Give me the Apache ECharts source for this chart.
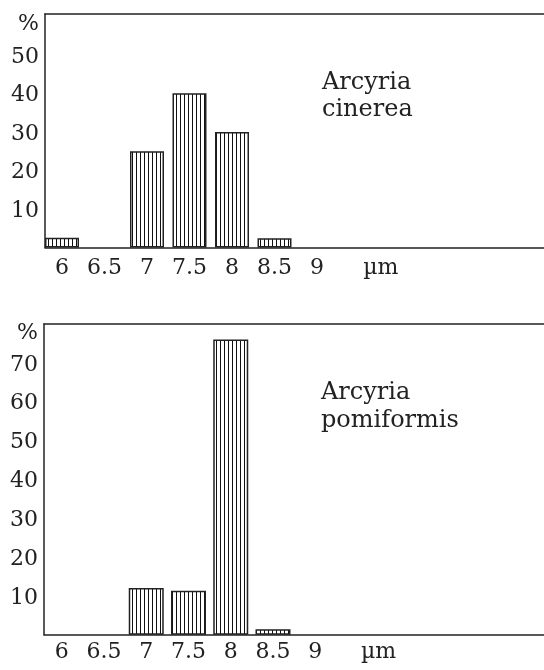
<!DOCTYPE html>
<html><head><meta charset="utf-8">
<script src="https://cdn.jsdelivr.net/npm/echarts@6/dist/echarts.min.js"></script>
<style>html,body{margin:0;padding:0;background:#fff}#c{width:544px;height:670px}</style>
</head><body><div id="c"></div>
<script>
// ---- data ----
const sizesTop = [6, 7, 7.5, 8, 8.5];
const valuesTop = [2.5, 25, 40, 30, 2.4];
const sizesBottom = [7, 7.5, 8, 8.5];
const valuesBottom = [12, 11.3, 76, 1.4];
const xTickLabels = [6, 6.5, 7, 7.5, 8, 8.5, 9];
const xUnit = 'µm';
const yTicksTop = [10, 20, 30, 40, 50];
const yTicksBottom = [10, 20, 30, 40, 50, 60, 70];
const yUnit = '%';
const speciesTop = ['Arcyria', 'cinerea'];
const speciesBottom = ['Arcyria', 'pomiformis'];

// ---- style ----
const INK = '#222';
const FONT = 'DejaVu Serif';
const FS = 22;
const unitXPos = 9.75;
const unitYTop = 58.5, unitYBottom = 78;

const pat = document.createElement('canvas');
pat.width = 4; pat.height = 4;
const pc = pat.getContext('2d');
pc.fillStyle = '#fff'; pc.fillRect(0, 0, 4, 4);
pc.fillStyle = '#111'; pc.fillRect(0, 0, 1, 4);
const fill = { image: pat, repeat: 'repeat' };

function xAx(gi, min, max, margin) {
  return {
    type: 'value', gridIndex: gi, min: min, max: max,
    splitLine: { show: false },
    axisLine: { show: true, onZero: false, lineStyle: { color: INK, width: 1.5 } },
    axisTick: { show: false },
    axisLabel: {
      customValues: xTickLabels.concat([unitXPos]),
      formatter: v => (Math.abs(v - unitXPos) < 1e-6 ? xUnit : String(v)),
      color: INK, fontFamily: FONT, fontSize: FS, margin: margin, showMinLabel: true, showMaxLabel: true
    }
  };
}
function topAx(gi, min, max) {
  return {
    type: 'value', gridIndex: gi, min: min, max: max, position: 'top',
    splitLine: { show: false },
    axisLine: { show: true, onZero: false, lineStyle: { color: INK, width: 1.5 } },
    axisTick: { show: false }, axisLabel: { show: false }
  };
}
function yAx(gi, max, ticks, unitV) {
  return {
    type: 'value', gridIndex: gi, min: 0, max: max,
    splitLine: { show: false },
    axisLine: { show: true, lineStyle: { color: INK, width: 1.5 } },
    axisTick: { show: false },
    axisLabel: {
      customValues: ticks.concat([unitV]),
      formatter: v => (Math.abs(v - unitV) < 1e-6 ? yUnit : String(v)),
      color: INK, fontFamily: FONT, fontSize: FS, margin: 6,
      verticalAlign: 'top', lineHeight: 22, padding: [-9, 0, 0, 0]
    }
  };
}

const chart = echarts.init(document.getElementById('c'), null, { renderer: 'canvas' });
chart.setOption({
  animation: false,
  backgroundColor: '#fff',
  grid: [
    { left: 45, right: 0, top: 14, height: 233.5 },
    { left: 44, right: 0, top: 324, height: 310.7 }
  ],
  xAxis: [xAx(0, 5.8, 5.8 + 499 / 85, 10), xAx(1, 5.79, 5.79 + 500 / 84.5, 7), topAx(0, 0, 1), topAx(1, 0, 1)],
  yAxis: [yAx(0, 60.6, yTicksTop, unitYTop), yAx(1, 80, yTicksBottom, unitYBottom)],
  series: [
    {
      type: 'bar', xAxisIndex: 0, yAxisIndex: 0, barWidth: 34,
      data: sizesTop.map((s, i) => [s, valuesTop[i]]),
      itemStyle: { color: fill, borderColor: INK, borderWidth: 1.5 }
    },
    {
      type: 'bar', xAxisIndex: 1, yAxisIndex: 1, barWidth: 35,
      data: sizesBottom.map((s, i) => [s, valuesBottom[i]]),
      itemStyle: { color: fill, borderColor: INK, borderWidth: 1.5 }
    }
  ],
  graphic: [
    { type: 'text', left: 322, top: 69, style: { text: speciesTop.join('\n'), font: '24px "' + FONT + '"', fill: INK, lineHeight: 27 } },
    { type: 'text', left: 321, top: 379, style: { text: speciesBottom.join('\n'), font: '24px "' + FONT + '"', fill: INK, lineHeight: 28 } }
  ]
});
</script></body></html>
